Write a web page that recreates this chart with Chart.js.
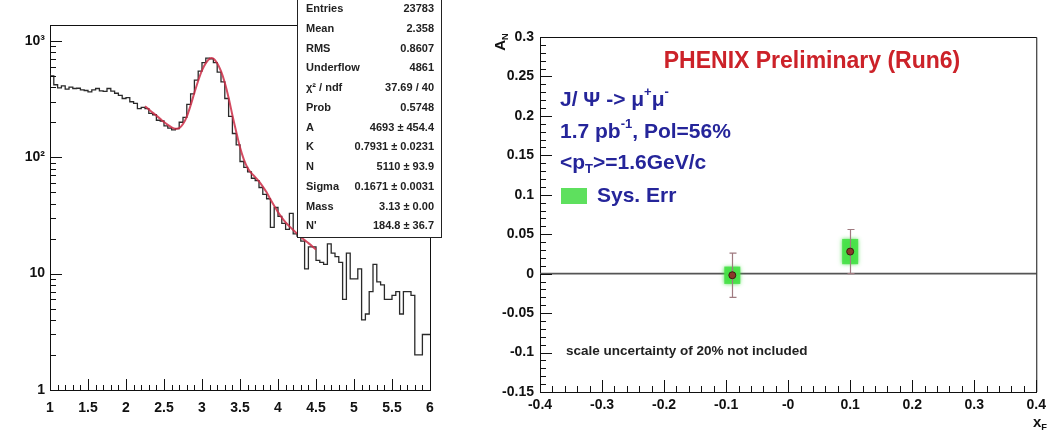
<!DOCTYPE html>
<html>
<head>
<meta charset="utf-8">
<script src="https://cdn.jsdelivr.net/npm/chart.js@4.4.0/dist/chart.umd.min.js"></script>
<style>
  html, body { margin: 0; padding: 0; background: #fff; }
  #wrap { position: relative; width: 1051px; height: 431px; overflow: hidden; }
  #left { position: absolute; left: 0; top: 0; }
  #right { position: absolute; left: 470px; top: 0; }
</style>
</head>
<body>
<div id="wrap">
  <canvas id="left" width="470" height="431"></canvas>
  <canvas id="right" width="581" height="431"></canvas>
</div>
<script>
// ---- left panel: dimuon mass histogram (bins of 0.05 from 1 to 6) ----
const binStart = 1.0
const binWidth = 0.05
const massCounts = [
  530, 500, 420, 395, 410,
  385, 400, 390, 392, 380,
  375, 365, 380, 390, 372,
  368, 390, 370, 355, 340,
  320, 325, 300, 290, 262,
  268, 262, 238, 232, 208,
  205, 186, 178, 172, 176,
  200, 220, 285, 350, 460,
  550, 650, 710, 700, 650,
  540, 445, 320, 225, 160,
  128, 92, 82, 75, 66,
  63, 55, 48, 44, 25,
  37, 31, 27, 24, 33,
  22, 21, 19, 11, 17,
  17, 13, 12.5, 12, 18,
  15, 14, 12.5, 6, 15,
  9, 9, 11, 4, 4.5,
  7, 12, 8.5, 8, 6,
  6, 6.5, 7, 4.5, 7,
  7, 6.5, 2, 2, 3
]

// fit curve
const fitMass = [2.25, 2.3, 2.35, 2.4, 2.45, 2.5, 2.55, 2.6, 2.65, 2.7,
  2.75, 2.8, 2.85, 2.9, 2.95, 3.0, 3.05, 3.1, 3.15, 3.2,
  3.25, 3.3, 3.35, 3.4, 3.45, 3.5, 3.55, 3.6, 3.65, 3.7,
  3.75, 3.8, 3.85, 3.9, 3.95, 4.0, 4.05, 4.1, 4.15, 4.2,
  4.25, 4.3, 4.35, 4.4, 4.45, 4.5]
const fitCounts = [275, 258, 242, 228, 214, 201, 190, 181, 176, 178,
  193, 224, 279, 358, 455, 558, 644, 705, 705, 642,
  549, 437, 325, 230, 166, 122, 96, 81, 73, 67.5,
  62, 56, 50, 43.6, 38.3, 33.8, 30.3, 27.6, 25.5, 23.7,
  22.1, 20.7, 19.4, 18.3, 17.2, 16.1]

const statsRows = [
  ['Entries', '23783'],
  ['Mean', '2.358'],
  ['RMS', '0.8607'],
  ['Underflow', '4861'],
  ['\u03c7\u00b2 / ndf', '37.69 / 40'],
  ['Prob', '0.5748'],
  ['A', '4693 \u00b1 454.4'],
  ['K', '0.7931 \u00b1 0.0231'],
  ['N', '5110 \u00b1 93.9'],
  ['Sigma', '0.1671 \u00b1 0.0031'],
  ['Mass', '3.13 \u00b1 0.00'],
  ["N'", '184.8 \u00b1 36.7']
]

// ---- right panel: A_N vs x_F ----
const xF = [-0.09, 0.1]
const AN = [-0.002, 0.028]
const statErr = [0.028, 0.028]
const sysErr = [0.011, 0.016]

const FONT = '"Liberation Sans", Arial, sans-serif'
const tickFont = { family: FONT, weight: 'bold', size: 14 }

const histPoints = massCounts.map((c, i) => ({ x: binStart + i * binWidth, y: c }))
histPoints.push({ x: binStart + massCounts.length * binWidth, y: massCounts[massCounts.length - 1] })
const fitPoints = fitMass.map((m, i) => ({ x: m, y: fitCounts[i] }))

// draw text with super/subscript pieces
function richText(ctx, x, y, parts, size, color, align){
  ctx.save()
  ctx.fillStyle = color
  ctx.textBaseline = 'middle'
  ctx.textAlign = 'left'
  let total = 0
  parts.forEach(p => {
    const s = p[1] ? size * 0.62 : size
    ctx.font = 'bold ' + s + 'px ' + FONT
    total += ctx.measureText(p[0]).width
  })
  let cx = align === 'center' ? x - total / 2 : x
  parts.forEach(p => {
    const s = p[1] ? size * 0.62 : size
    ctx.font = 'bold ' + s + 'px ' + FONT
    let dy = 0
    if (p[1] === 'sup') dy = -size * 0.38
    if (p[1] === 'sub') dy = size * 0.32
    ctx.fillText(p[0], cx, y + dy)
    cx += ctx.measureText(p[0]).width
  })
  ctx.restore()
}

const leftDecor = {
  id: 'leftDecor',
  afterDraw(chart){
    const ctx = chart.ctx
    const a = chart.chartArea
    const xs = chart.scales.x
    const ys = chart.scales.y
    ctx.save()
    ctx.strokeStyle = '#111'
    ctx.lineWidth = 1
    // frame top + right
    ctx.beginPath()
    ctx.moveTo(a.left, a.top + 0.5); ctx.lineTo(a.right + 0.5, a.top + 0.5); ctx.lineTo(a.right + 0.5, a.bottom)
    ctx.stroke()
    // inward ticks
    ctx.beginPath()
    xs.ticks.forEach(t => {
      const px = Math.round(xs.getPixelForValue(t.value)) + 0.5
      const len = Math.round(t.value * 10) % 5 === 0 ? 11 : 5
      ctx.moveTo(px, a.bottom); ctx.lineTo(px, a.bottom - len)
    })
    ys.ticks.forEach(t => {
      const e = Math.floor(Math.log10(t.value) + 1e-9)
      const m = t.value / Math.pow(10, e)
      if (Math.abs(m - Math.round(m)) > 1e-6) return
      const py = Math.round(ys.getPixelForValue(t.value)) + 0.5
      const len = Math.round(m) === 1 ? 12 : 6
      ctx.moveTo(a.left, py); ctx.lineTo(a.left + len, py)
    })
    ctx.stroke()

    // stats box
    const bx = 297, by = -5, bw = 144, bh = 242
    ctx.fillStyle = '#fff'
    ctx.fillRect(bx, by, bw, bh)
    ctx.strokeStyle = '#222'
    ctx.strokeRect(bx + 0.5, by + 0.5, bw, bh)
    ctx.fillStyle = '#222'
    ctx.font = 'bold 11px ' + FONT
    ctx.textBaseline = 'middle'
    statsRows.forEach((r, i) => {
      const y = 9 + i * 19.75
      ctx.textAlign = 'left'
      ctx.fillText(r[0], 306, y)
      ctx.textAlign = 'right'
      ctx.fillText(r[1], 434, y)
    })
    ctx.restore()
  }
}

new Chart(document.getElementById('left'), {
  type: 'line',
  data: {
    datasets: [
      { label: 'fit', data: fitPoints, borderColor: 'rgba(205,45,70,0.85)', borderWidth: 2, pointRadius: 0, tension: 0.3, fill: false },
      { label: 'hist', data: histPoints, borderColor: '#2a2a2a', borderWidth: 1.3, stepped: 'after', pointRadius: 0, fill: false }
    ]
  },
  options: {
    responsive: false,
    animation: false,
    plugins: { legend: { display: false }, tooltip: { enabled: false } },
    layout: { padding: { top: 25, right: 40, left: 0, bottom: 0 } },
    scales: {
      x: {
        type: 'linear', min: 1, max: 6,
        grid: { display: false, drawTicks: false, tickLength: 0 },
        border: { display: true, color: '#111', width: 1 },
        ticks: {
          stepSize: 0.1, autoSkip: false, maxRotation: 0, padding: 10, font: tickFont, color: '#111',
          callback: v => Math.round(v * 10) % 5 === 0 ? String(Math.round(v * 10) / 10) : ''
        },
        afterFit: s => { s.height = 41 }
      },
      y: {
        type: 'logarithmic', min: 1, max: 1370,
        grid: { display: false, drawTicks: false, tickLength: 0 },
        border: { display: true, color: '#111', width: 1 },
        ticks: {
          autoSkip: false, padding: 5, font: tickFont, color: '#111',
          callback: v => {
            const l = Math.log10(v)
            if (Math.abs(l - Math.round(l)) > 1e-9) return ''
            return ['1', '10', '10\u00b2', '10\u00b3'][Math.round(l)]
          }
        },
        afterFit: s => { s.width = 50 }
      }
    }
  },
  plugins: [leftDecor]
})

const rightDecor = {
  id: 'rightDecor',
  beforeDatasetsDraw(chart){
    const ctx = chart.ctx
    const a = chart.chartArea
    const xs = chart.scales.x
    const ys = chart.scales.y
    ctx.save()
    // zero line
    const y0 = ys.getPixelForValue(0)
    ctx.strokeStyle = '#555'
    ctx.lineWidth = 1.6
    ctx.beginPath(); ctx.moveTo(a.left, y0); ctx.lineTo(a.right, y0); ctx.stroke()
    // systematic boxes, a little fuzzy like the original
    ctx.fillStyle = 'rgba(70,225,70,0.9)'
    ctx.shadowColor = 'rgba(60,220,60,0.9)'
    ctx.shadowBlur = 4
    xF.forEach((x, i) => {
      const px = xs.getPixelForValue(x)
      const top = ys.getPixelForValue(AN[i] + sysErr[i])
      const bot = ys.getPixelForValue(AN[i] - sysErr[i])
      ctx.fillRect(px - 8, top, 16, bot - top)
    })
    ctx.shadowBlur = 0
    ctx.shadowColor = 'transparent'
    // statistical error bars
    ctx.strokeStyle = '#a07a80'
    ctx.lineWidth = 1.2
    xF.forEach((x, i) => {
      const px = Math.round(xs.getPixelForValue(x)) + 0.5
      const top = ys.getPixelForValue(AN[i] + statErr[i])
      const bot = ys.getPixelForValue(AN[i] - statErr[i])
      ctx.beginPath()
      ctx.moveTo(px, top); ctx.lineTo(px, bot)
      ctx.moveTo(px - 3, top); ctx.lineTo(px + 4, top)
      ctx.moveTo(px - 3, bot); ctx.lineTo(px + 4, bot)
      ctx.stroke()
    })
    ctx.restore()
  },
  afterDraw(chart){
    const ctx = chart.ctx
    const a = chart.chartArea
    const xs = chart.scales.x
    const ys = chart.scales.y
    ctx.save()
    ctx.strokeStyle = '#111'
    ctx.lineWidth = 1
    ctx.beginPath()
    ctx.moveTo(a.left, a.top + 0.5); ctx.lineTo(a.right + 0.5, a.top + 0.5); ctx.lineTo(a.right + 0.5, a.bottom)
    ctx.stroke()
    ctx.beginPath()
    xs.ticks.forEach(t => {
      const px = Math.round(xs.getPixelForValue(t.value)) + 0.5
      const len = Math.round(t.value * 100) % 10 === 0 ? 12 : 6
      ctx.moveTo(px, a.bottom); ctx.lineTo(px, a.bottom - len)
    })
    ys.ticks.forEach(t => {
      const py = Math.round(ys.getPixelForValue(t.value)) + 0.5
      const len = Math.round(t.value * 100) % 5 === 0 ? 12 : 6
      ctx.moveTo(a.left, py); ctx.lineTo(a.left + len, py)
    })
    ctx.stroke()
    ctx.restore()

    // annotations
    richText(ctx, 342, 62, [['PHENIX Preliminary (Run6)']], 23, '#cc2229', 'center')
    const navy = '#25259a'
    richText(ctx, 90, 100, [['J/ \u03a8 -> \u03bc'], ['+', 'sup'], ['\u03bc'], ['-', 'sup']], 21, navy)
    richText(ctx, 90, 132, [['1.7 pb'], ['-1', 'sup'], [', Pol=56%']], 21, navy)
    richText(ctx, 90, 163, [['<p'], ['T', 'sub'], ['>=1.6GeV/c']], 21, navy)
    ctx.fillStyle = '#5ee05e'
    ctx.fillRect(91, 188, 26, 16)
    richText(ctx, 127, 196, [['Sys. Err']], 21, navy)
    richText(ctx, 96, 351, [['scale uncertainty of 20% not included']], 13.5, '#222')
    richText(ctx, 563, 423, [['x'], ['F', 'sub']], 15, '#111')
    ctx.save()
    ctx.translate(31, 42)
    ctx.rotate(-Math.PI / 2)
    richText(ctx, 0, 0, [['A'], ['N', 'sub']], 15, '#111', 'center')
    ctx.restore()
  }
}

new Chart(document.getElementById('right'), {
  type: 'scatter',
  data: {
    datasets: [{
      label: 'A_N',
      data: xF.map((x, i) => ({ x: x, y: AN[i] })),
      pointRadius: 3.5,
      backgroundColor: '#8a3a2a',
      borderColor: '#3a1a10',
      borderWidth: 1
    }]
  },
  options: {
    responsive: false,
    animation: false,
    plugins: { legend: { display: false }, tooltip: { enabled: false } },
    layout: { padding: { top: 37, right: 14, left: 0, bottom: 0 } },
    scales: {
      x: {
        type: 'linear', min: -0.4, max: 0.4,
        grid: { display: false, drawTicks: false, tickLength: 0 },
        border: { display: true, color: '#111', width: 1 },
        ticks: {
          stepSize: 0.02, autoSkip: false, maxRotation: 0, padding: 5, font: tickFont, color: '#111',
          callback: v => {
            if (Math.round(v * 100) % 10 !== 0) return ''
            const r = Math.round(v * 10) / 10
            return r === 0 ? '-0' : String(r)
          }
        },
        afterFit: s => { s.height = 39 }
      },
      y: {
        type: 'linear', min: -0.15, max: 0.3,
        grid: { display: false, drawTicks: false, tickLength: 0 },
        border: { display: true, color: '#111', width: 1 },
        ticks: {
          stepSize: 0.01, autoSkip: false, padding: 6, font: tickFont, color: '#111',
          callback: v => Math.round(v * 100) % 5 === 0 ? String(Math.round(v * 100) / 100) : ''
        },
        afterFit: s => { s.width = 70 }
      }
    }
  },
  plugins: [rightDecor]
})
</script>
</body>
</html>
